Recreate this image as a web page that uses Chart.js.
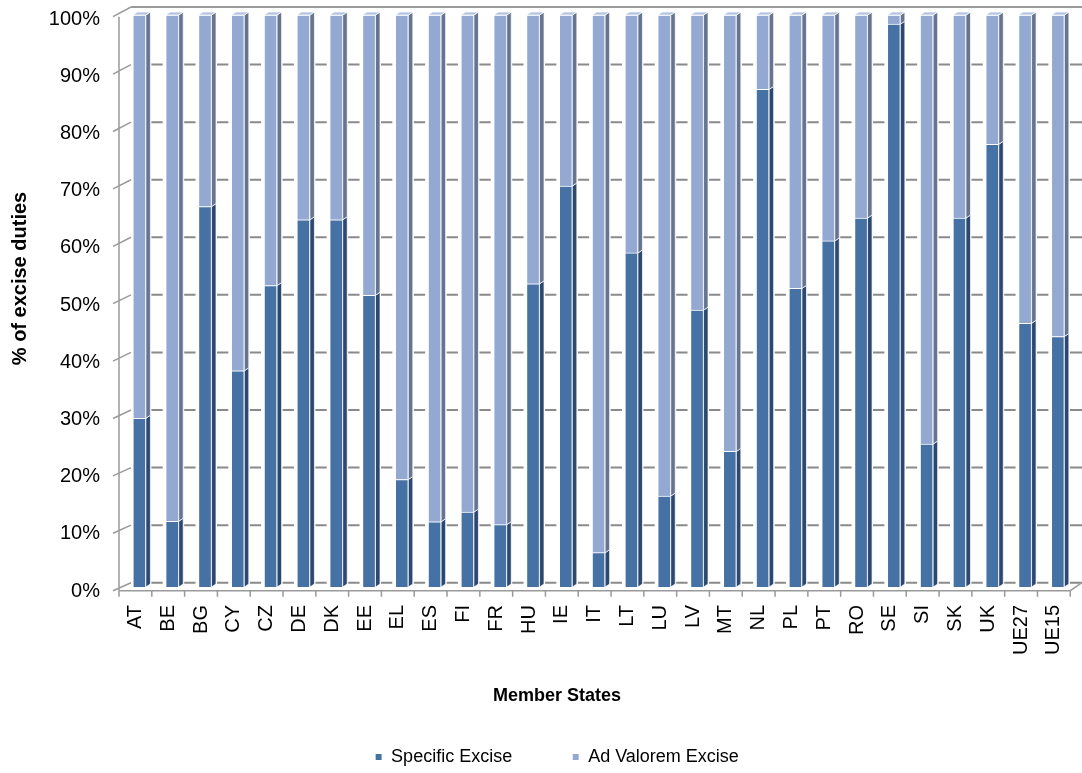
<!DOCTYPE html>
<html>
<head>
<meta charset="utf-8">
<script src="https://cdn.jsdelivr.net/npm/chart.js@4/dist/chart.umd.min.js"></script>
<style>
  html, body { margin: 0; padding: 0; background: #ffffff; }
  #wrap { width: 1082px; height: 773px; position: relative; }
</style>
</head>
<body>
<div id="wrap"><canvas id="c" width="1082" height="773"></canvas></div>
<script>
// Share of specific vs ad valorem excise in total excise duties, by Member State (%)
const categories = ['AT','BE','BG','CY','CZ','DE','DK','EE','EL','ES','FI','FR','HU','IE','IT',
                    'LT','LU','LV','MT','NL','PL','PT','RO','SE','SI','SK','UK','UE27','UE15'];
const specificExcise = [29.5, 11.5, 66.5, 37.8, 52.7, 64.2, 64.2, 51.0, 18.8, 11.4, 13.1, 10.9, 53.0, 70.1, 6.0,
                        58.4, 15.9, 48.4, 23.7, 87.0, 52.2, 60.5, 64.5, 98.4, 25.0, 64.5, 77.4, 46.1, 43.8];
const adValoremExcise = [70.5, 88.5, 33.5, 62.2, 47.3, 35.8, 35.8, 49.0, 81.2, 88.6, 86.9, 89.1, 47.0, 29.9, 94.0,
                         41.6, 84.1, 51.6, 76.3, 13.0, 47.8, 39.5, 35.5, 1.6, 75.0, 35.5, 22.6, 53.9, 56.2];
const seriesNames = ['Specific Excise', 'Ad Valorem Excise'];
const percentTicks = [0, 10, 20, 30, 40, 50, 60, 70, 80, 90, 100];
const yAxisTitle = '% of excise duties';
const xAxisTitle = 'Member States';

const FONT = "'Liberation Sans', Arial, sans-serif";
const frontColors = ['#4571A5', '#93A9D1'];
const sideColors  = ['#2C486E', '#65758F'];
const capColor = '#B3C3E0';
const GRID = '#8A8A8A';

// Depth of the 3-D box (walls) and of the bars
const WALL_DX = 12;
const BAR_DX = 4.5, BAR_DY = 3;

function yFront(ys, v) { return ys.getPixelForValue(v) + 3.7 - 2 * v / 100; }
function yBack(ys, v)  { return ys.getPixelForValue(v) - 4.3 - 3.7 * v / 100; }

// Back wall, side wall, floor edge and tick marks
const wallPlugin = {
  id: 'wall',
  beforeDatasetsDraw(chart) {
    const { ctx } = chart;
    const xs = chart.scales.x, ys = chart.scales.y;
    const n = categories.length;
    const step = (xs.right - xs.left) / n;
    const axisX = xs.left - 4;
    const backX = axisX + WALL_DX;
    const W = chart.width;
    ctx.save();
    ctx.lineCap = 'butt';

    // gridlines on the back wall, visible between the bars
    ctx.strokeStyle = GRID;
    ctx.lineWidth = 2;
    for (const v of percentTicks) {
      if (v === 100) continue;
      const yb = yBack(ys, v);
      ctx.beginPath();
      for (let i = 0; i < n; i++) {
        const cx = xs.getPixelForValue(i);
        const start = cx + 12;
        const end = (i < n - 1) ? xs.getPixelForValue(i + 1) - 9.5 : W;
        ctx.moveTo(start, yb);
        ctx.lineTo(end, yb);
      }
      ctx.stroke();
    }

    // top edge of the back wall
    ctx.strokeStyle = '#9A9A9A';
    ctx.lineWidth = 2;
    ctx.beginPath();
    ctx.moveTo(backX, yBack(ys, 100));
    ctx.lineTo(W, yBack(ys, 100));
    ctx.stroke();

    // left axis line and slanted ticks on the side wall
    ctx.lineWidth = 1.5;
    ctx.beginPath();
    ctx.moveTo(axisX, yFront(ys, 100));
    ctx.lineTo(axisX, yFront(ys, 0));
    for (const v of percentTicks) {
      ctx.moveTo(axisX - 6, yFront(ys, v));
      ctx.lineTo(backX, yBack(ys, v));
    }
    ctx.stroke();

    // floor front edge, right slant, category ticks
    const floorY = yFront(ys, 0);
    const floorRight = axisX + n * step;
    ctx.beginPath();
    ctx.moveTo(axisX, floorY);
    ctx.lineTo(floorRight, floorY);
    ctx.lineTo(W, yBack(ys, 0));
    for (let i = 0; i <= n; i++) {
      const tx = axisX + i * step;
      ctx.moveTo(tx, floorY);
      ctx.lineTo(tx, floorY + 6);
    }
    ctx.stroke();
    ctx.restore();
  }
};

// Side faces and top caps that give the columns their depth
const depthPlugin = {
  id: 'depth',
  afterDatasetsDraw(chart) {
    const { ctx } = chart;
    const last = chart.data.datasets.length - 1;
    ctx.save();
    ctx.lineWidth = 0.8;
    ctx.strokeStyle = 'rgba(255,255,255,0.9)';
    chart.data.datasets.forEach((ds, di) => {
      const meta = chart.getDatasetMeta(di);
      meta.data.forEach((bar) => {
        const { x, y, base, width } = bar.getProps(['x', 'y', 'base', 'width'], true);
        const l = x - width / 2, r = x + width / 2;
        ctx.fillStyle = sideColors[di];
        ctx.beginPath();
        ctx.moveTo(r, y);
        ctx.lineTo(r + BAR_DX, y - BAR_DY);
        ctx.lineTo(r + BAR_DX, base - BAR_DY);
        ctx.lineTo(r, base);
        ctx.closePath();
        ctx.fill();
        ctx.stroke();
        if (di === last) {
          ctx.fillStyle = capColor;
          ctx.beginPath();
          ctx.moveTo(l, y);
          ctx.lineTo(l + BAR_DX, y - BAR_DY);
          ctx.lineTo(r + BAR_DX, y - BAR_DY);
          ctx.lineTo(r, y);
          ctx.closePath();
          ctx.fill();
          ctx.stroke();
        }
      });
    });
    ctx.restore();
  }
};

// Axis titles
const axisTitlePlugin = {
  id: 'axisTitles',
  afterDraw(chart) {
    const { ctx } = chart;
    ctx.save();
    ctx.fillStyle = '#000000';
    ctx.textAlign = 'center';
    ctx.textBaseline = 'middle';

    ctx.font = 'bold 18px ' + FONT;
    ctx.fillText(xAxisTitle, 557, 696);

    ctx.translate(20.5, 278.5);
    ctx.rotate(-Math.PI / 2);
    ctx.font = 'bold 20px ' + FONT;
    ctx.fillText(yAxisTitle, 0, 0);
    ctx.restore();
  }
};

new Chart(document.getElementById('c'), {
  type: 'bar',
  data: {
    labels: categories,
    datasets: [
      { label: seriesNames[0], data: specificExcise, backgroundColor: frontColors[0],
        borderColor: '#ffffff', borderWidth: 1, barThickness: 13 },
      { label: seriesNames[1], data: adValoremExcise, backgroundColor: frontColors[1],
        borderColor: '#ffffff', borderWidth: 1, barThickness: 13 }
    ]
  },
  options: {
    responsive: false,
    animation: false,
    devicePixelRatio: 1,
    layout: { padding: { left: 39, right: 7, top: 15, bottom: -3 } },
    plugins: {
      legend: {
        position: 'bottom',
        labels: { boxWidth: 7, boxHeight: 7, padding: 60, color: '#000000',
                  font: { family: FONT, size: 18 } }
      },
      tooltip: { enabled: false }
    },
    scales: {
      x: {
        stacked: true,
        grid: { display: false, drawTicks: true, tickLength: 18 },
        border: { display: false },
        ticks: { autoSkip: false, minRotation: 90, maxRotation: 90, padding: 0, labelOffset: -4,
                 color: '#000000', font: { family: FONT, size: 20 } },
        title: { display: false },
        afterFit(s) { s.height = 101; }
      },
      y: {
        stacked: true,
        min: 0, max: 100,
        grid: { display: false, drawTicks: true, tickLength: 23 },
        border: { display: false },
        ticks: { stepSize: 10, padding: 0, labelOffset: 4, color: '#000000',
                 font: { family: FONT, size: 20 }, callback: (v) => v + '%' },
        title: { display: false },
        afterFit(s) { s.width = 84; }
      }
    }
  },
  plugins: [wallPlugin, depthPlugin, axisTitlePlugin]
});
</script>
</body>
</html>
